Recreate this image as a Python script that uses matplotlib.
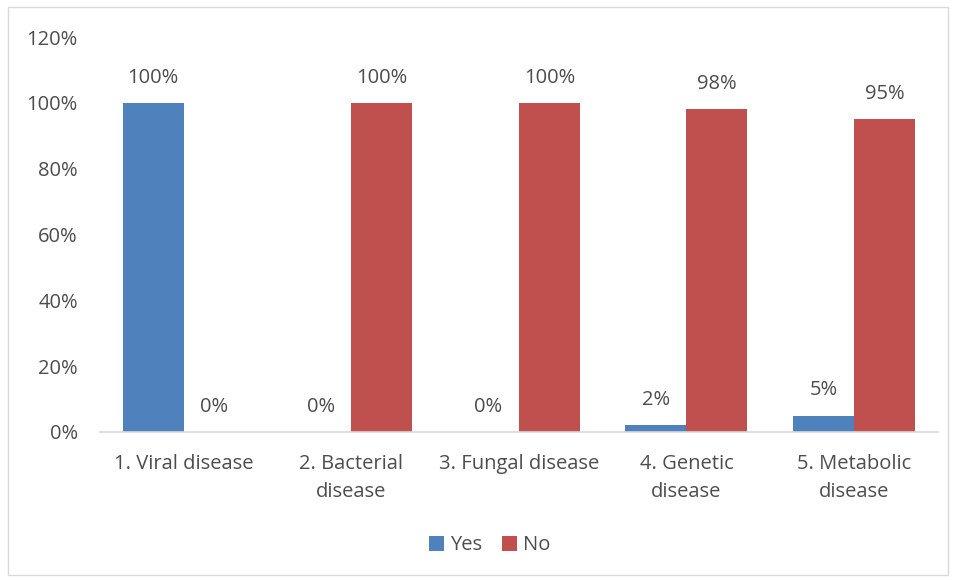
import matplotlib.pyplot as plt
import numpy as np
from matplotlib.patches import Rectangle

categories = ['1. Viral disease', '2. Bacterial\ndisease', '3. Fungal disease',
              '4. Genetic\ndisease', '5. Metabolic\ndisease']
yes_vals = [100, 0, 0, 2, 5]
no_vals = [0, 100, 100, 98, 95]

blue = '#4F81BD'
red = '#C0504D'
text_color = '#4D4D4D'

plt.rcParams['font.family'] = ['Open Sans', 'DejaVu Sans']

fig = plt.figure(figsize=(9.56, 5.8), dpi=100)
ax = fig.add_axes([0.1046, 0.2552, 0.8764, 0.681])

bar_width = 0.364
x = np.arange(len(categories))

bars_yes = ax.bar(x - bar_width / 2, yes_vals, width=bar_width, color=blue, label='Yes')
bars_no = ax.bar(x + bar_width / 2, no_vals, width=bar_width, color=red, label='No')

for bars in (bars_yes, bars_no):
    for b in bars:
        h = b.get_height()
        ax.annotate(f'{h:.0f}%', (b.get_x() + b.get_width() / 2, h),
                    xytext=(0, 11), textcoords='offset points',
                    ha='center', va='bottom', fontsize=14.5, color=text_color)

ax.set_xlim(-0.5, len(categories) - 0.5)
ax.set_ylim(0, 120)
ax.set_yticks(range(0, 121, 20))
ax.set_yticklabels([f'{v}%' for v in range(0, 121, 20)])
ax.set_xticks(x)
ax.set_xticklabels(categories, linespacing=1.55)
ax.tick_params(axis='both', length=0, labelsize=14.5, colors=text_color)
ax.tick_params(axis='y', pad=16)
ax.tick_params(axis='x', pad=16)

for s in ('top', 'right', 'left'):
    ax.spines[s].set_visible(False)
ax.spines['bottom'].set_color('#D9D9D9')
ax.spines['bottom'].set_linewidth(1.2)

leg = fig.legend(loc='center', bbox_to_anchor=(0.512, 0.06), ncol=2, frameon=False,
                 fontsize=14.5, handlelength=0.75, handleheight=0.75,
                 handletextpad=0.3, columnspacing=1.0)
for t in leg.get_texts():
    t.set_color(text_color)

# chart border
fig.patches.append(Rectangle((0.008, 0.008), 0.984, 0.98, transform=fig.transFigure,
                             fill=False, edgecolor='#D9D9D9', linewidth=1))

plt.savefig('out.png', dpi=100)
plt.close()
